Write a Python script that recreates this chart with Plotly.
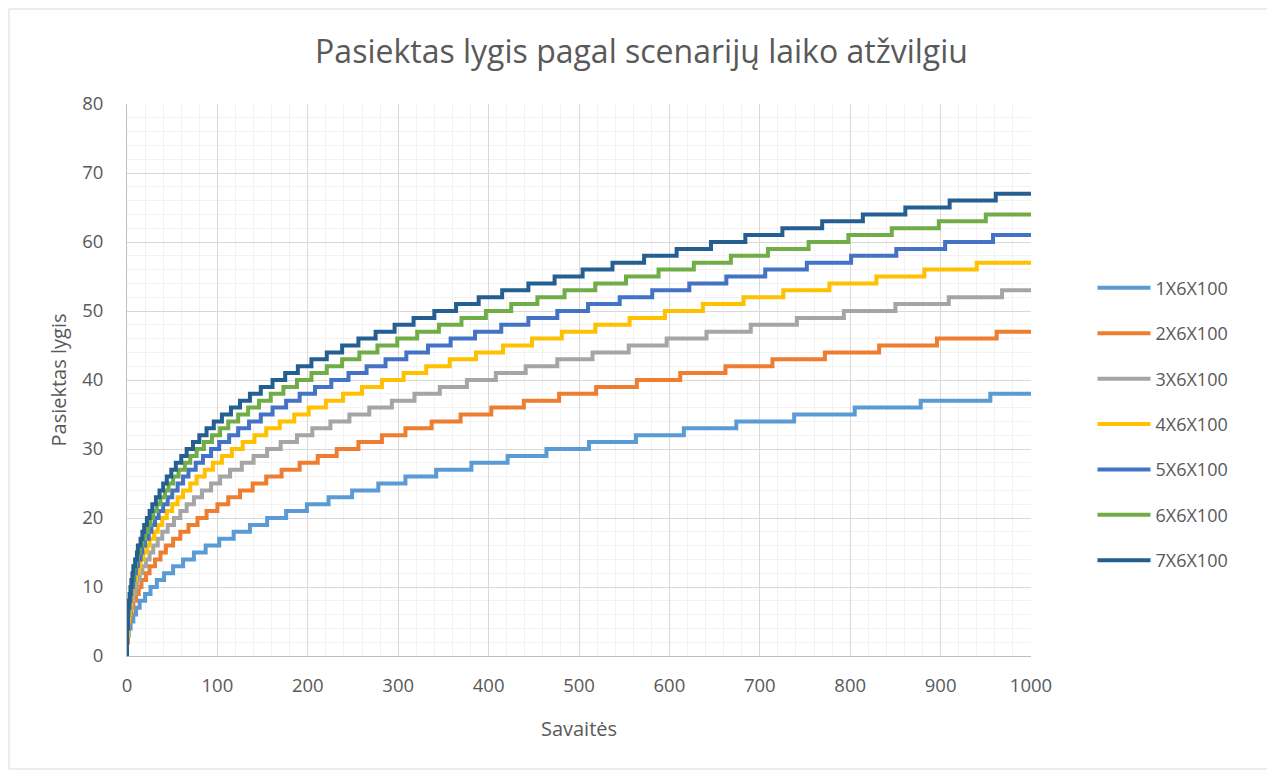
import plotly.graph_objects as go

# Week at which each level (1, 2, 3, ...) is reached, per scenario
series_names = ["1X6X100", "2X6X100", "3X6X100", "4X6X100", "5X6X100", "6X6X100", "7X6X100"]
colors = ["#5B9BD5", "#ED7D31", "#A5A5A5", "#FFC000", "#4472C4", "#70AD47", "#255E91"]

s1_weeks = [0, 0, 1, 2, 4, 7, 10, 14, 20, 26, 33, 41, 51, 62, 74, 87, 102, 118, 136, 155, 176,
            199, 223, 249, 278, 308, 342, 381, 421, 464, 511, 563, 616, 674, 738, 805, 878, 955]
s2_weeks = [0, 0, 1, 1, 2, 3, 5, 7, 10, 13, 16, 21, 25, 31, 37, 43, 51, 59, 68, 78, 88, 100,
            112, 125, 139, 154, 171, 191, 211, 232, 256, 282, 308, 337, 369, 403, 439, 478, 519,
            564, 612, 662, 714, 772, 832, 896, 962]
s3_weeks = [0, 0, 0, 1, 1, 2, 3, 5, 7, 9, 11, 14, 17, 21, 25, 29, 34, 39, 45, 52, 59, 66, 74,
            83, 93, 103, 114, 127, 140, 155, 170, 188, 205, 225, 246, 268, 293, 318, 346, 376,
            408, 441, 476, 515, 555, 597, 641, 690, 741, 793, 850, 909, 968]
s4_weeks = [0, 0, 0, 1, 1, 2, 3, 4, 5, 6, 8, 10, 13, 15, 18, 22, 25, 30, 34, 39, 44, 50, 56,
            62, 70, 77, 86, 95, 105, 116, 128, 141, 154, 169, 185, 201, 220, 239, 260, 282, 306,
            331, 357, 386, 416, 448, 481, 518, 556, 595, 637, 682, 726, 777, 829, 882, 940]
s5_weeks = [0, 0, 0, 0, 1, 1, 2, 3, 4, 5, 7, 8, 10, 12, 15, 17, 20, 24, 27, 31, 35, 40, 45,
            50, 56, 62, 68, 76, 84, 93, 102, 113, 123, 135, 148, 161, 176, 191, 208, 226, 245,
            265, 286, 309, 333, 358, 385, 414, 444, 476, 510, 545, 581, 622, 663, 706, 752, 801,
            851, 905, 958]
s6_weeks = [0, 0, 0, 0, 1, 1, 2, 2, 3, 4, 5, 7, 8, 10, 12, 14, 17, 20, 23, 26, 29, 33, 37,
            42, 46, 51, 57, 64, 70, 77, 85, 94, 103, 112, 123, 134, 146, 159, 173, 188, 204, 221,
            238, 257, 277, 299, 321, 345, 370, 397, 425, 454, 484, 518, 552, 588, 627, 668, 709,
            754, 798, 846, 898, 950]
s7_weeks = [0, 0, 0, 0, 1, 1, 1, 2, 3, 4, 5, 6, 7, 9, 11, 12, 15, 17, 19, 22, 25, 28, 32,
            36, 40, 44, 49, 54, 60, 66, 73, 80, 88, 96, 105, 115, 125, 136, 148, 161, 175, 189,
            204, 221, 238, 256, 275, 296, 317, 340, 364, 389, 415, 444, 473, 504, 537, 572, 608,
            646, 684, 725, 769, 814, 861, 910, 961]

all_weeks = [s1_weeks, s2_weeks, s3_weeks, s4_weeks, s5_weeks, s6_weeks, s7_weeks]
x_end = 1000

x_ticks = [0, 100, 200, 300, 400, 500, 600, 700, 800, 900, 1000]
y_ticks = [0, 10, 20, 30, 40, 50, 60, 70, 80]

fig = go.Figure()
for name, col, weeks in zip(series_names, colors, all_weeks):
    levels = list(range(1, len(weeks) + 1))
    xs = [0] + weeks + [x_end]
    ys = [0] + levels + [levels[-1]]
    fig.add_trace(go.Scatter(
        x=xs, y=ys, mode="lines", name=name, legendgroup=name,
        line=dict(color=col, width=4, shape="hv"),
    ))

W, H = 1267, 763
L, T, PW, PH = 119, 96, 904, 552
grey_txt = "#595959"
fig.update_layout(
    width=W, height=H,
    paper_bgcolor="white", plot_bgcolor="white",
    margin=dict(l=L, r=W - L - PW, t=T, b=H - T - PH),
    font=dict(family="Open Sans, Liberation Sans, sans-serif", color=grey_txt),
    title=dict(text="Pasiektas lygis pagal scenarijų laiko atžvilgiu",
               x=0.5, xanchor="center", y=1 - 44 / H, yanchor="middle",
               font=dict(size=32, color=grey_txt)),
    legend=dict(x=1.068, xanchor="left", y=0.42, yanchor="middle",
                font=dict(size=18, color=grey_txt), tracegroupgap=19,
                itemwidth=53, bgcolor="rgba(0,0,0,0)"),
    showlegend=True,
)
fig.update_xaxes(
    range=[0, 1000], tickvals=x_ticks, ticktext=[str(v) for v in x_ticks],
    showgrid=True, gridcolor="#D9D9D9", gridwidth=1,
    minor=dict(dtick=20, showgrid=True, gridcolor="#F2F2F2", gridwidth=1),
    showline=True, linecolor="#BFBFBF", linewidth=1, zeroline=False,
    ticks="", tickfont=dict(size=18.5, color=grey_txt), ticklabelstandoff=13,
    title=dict(text="Savaitės", font=dict(size=20, color=grey_txt), standoff=25),
)
fig.update_yaxes(
    range=[0, 80], tickvals=y_ticks, ticktext=[str(v) for v in y_ticks],
    showgrid=True, gridcolor="#D9D9D9", gridwidth=1,
    minor=dict(dtick=2, showgrid=True, gridcolor="#F2F2F2", gridwidth=1),
    showline=True, linecolor="#BFBFBF", linewidth=1, zeroline=False,
    ticks="", tickfont=dict(size=18.5, color=grey_txt), ticklabelstandoff=19,
    title=dict(text="Pasiektas lygis", font=dict(size=20, color=grey_txt), standoff=10),
)
# outer chart border
fig.add_shape(type="rect", xref="paper", yref="paper",
              x0=-(L - 1) / PW, x1=(W - L - 2) / PW,
              y0=-(H - T - PH - 2) / PH, y1=(T - 1) / PH + 1,
              line=dict(color="#D9D9D9", width=1), fillcolor="rgba(0,0,0,0)", layer="below")

fig.write_html("out.html")
